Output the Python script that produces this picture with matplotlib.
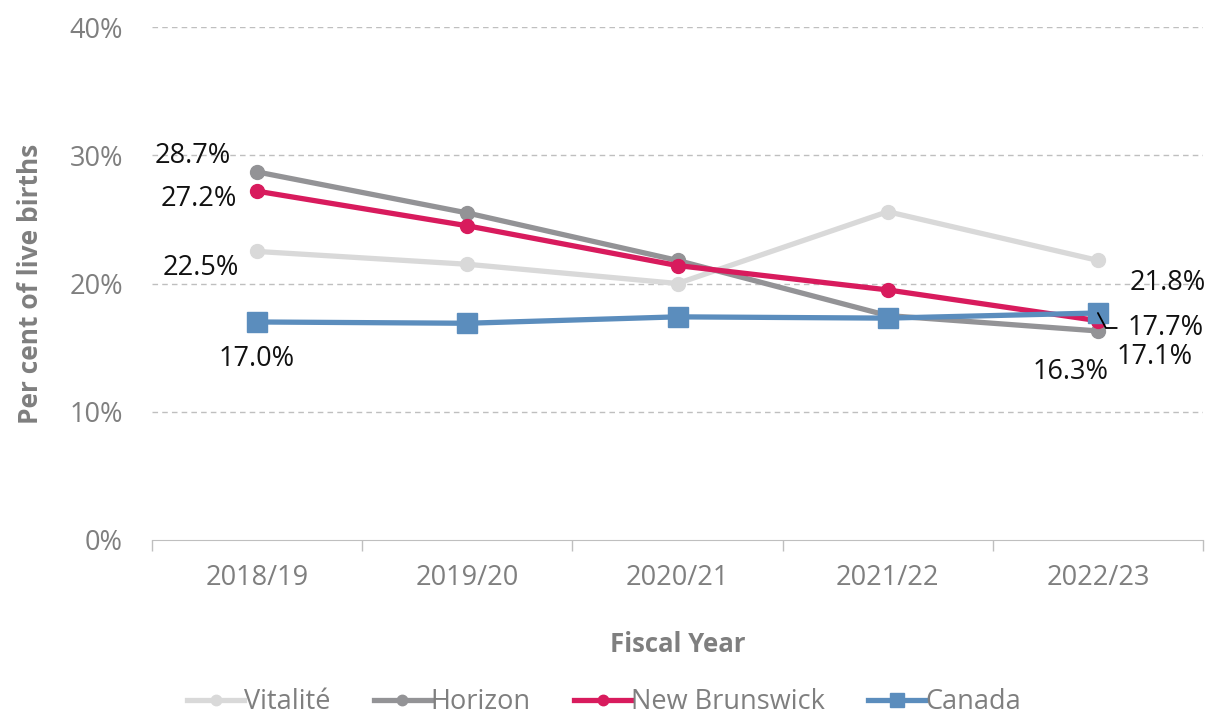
import matplotlib.pyplot as plt
import numpy as np

years = ["2018/19", "2019/20", "2020/21", "2021/22", "2022/23"]
vitalite = [22.5, 21.5, 20.0, 25.6, 21.8]
horizon = [28.7, 25.5, 21.8, 17.5, 16.3]
new_brunswick = [27.2, 24.5, 21.4, 19.5, 17.1]
canada = [17.0, 16.9, 17.4, 17.3, 17.7]

plt.rcParams['font.family'] = ['Open Sans', 'DejaVu Sans']

fig = plt.figure(figsize=(12.08, 7.19), dpi=100)
ax = fig.add_axes([152 / 1208, 1 - 540 / 719, (1203 - 152) / 1208, (540 - 27) / 719])

x = np.arange(len(years))
ax.plot(x, vitalite, '-o', color='#d9d9d9', lw=3.8, ms=10, label='Vitalité', zorder=3)
ax.plot(x, horizon, '-o', color='#939396', lw=3.8, ms=10, label='Horizon', zorder=4)
ax.plot(x, new_brunswick, '-o', color='#d81b5d', lw=3.8, ms=10, label='New Brunswick', zorder=5)
ax.plot(x, canada, '-s', color='#5b8dbd', lw=3.8, ms=14, label='Canada', zorder=6)

ax.set_xlim(-0.5, len(years) - 0.5)
ax.set_ylim(0, 40)
ax.set_yticks([0, 10, 20, 30, 40])
ax.set_yticklabels([f"{v}%" for v in [0, 10, 20, 30, 40]])
ax.set_xticks(x)
ax.set_xticklabels(years)
ax.set_xticks(np.arange(-0.5, len(years)), minor=True)
ax.tick_params(axis='x', which='major', length=0, pad=17, labelsize=19.5, labelcolor='#7f7f7f')
ax.tick_params(axis='x', which='minor', length=8, color='#bfbfbf', width=1)
ax.tick_params(axis='y', length=0, pad=21, labelsize=19.5, labelcolor='#7f7f7f')

for v in [10, 20, 30, 40]:
    ax.axhline(v, color='#bfbfbf', lw=1, ls=(0, (4, 3)), zorder=1)
for s in ['top', 'right', 'left']:
    ax.spines[s].set_visible(False)
ax.spines['bottom'].set_color('#bfbfbf')

ax.set_xlabel("Fiscal Year", fontsize=18.5, fontweight='bold', color='#7f7f7f', labelpad=28)
ax.set_ylabel("Per cent of live births", fontsize=19, fontweight='bold', color='#7f7f7f', labelpad=18)

# data labels (offsets in pixels)
lab = dict(fontsize=19.5, color='#111111', textcoords='offset pixels', zorder=10)
ax.annotate(f"{horizon[0]}%", (0, horizon[0]), xytext=(-26, 16), ha='right', va='center', **lab)
ax.annotate(f"{new_brunswick[0]}%", (0, new_brunswick[0]), xytext=(-20, -8), ha='right', va='center', **lab)
ax.annotate(f"{vitalite[0]}%", (0, vitalite[0]), xytext=(-18, -17), ha='right', va='center', **lab)
ax.annotate(f"{canada[0]}%", (0, canada[0]), xytext=(0, -37), ha='center', va='center', **lab)
ax.annotate(f"{vitalite[4]}%", (4, vitalite[4]), xytext=(32, -23), ha='left', va='center', **lab)
ax.annotate(f"{canada[4]}%", (4, canada[4]), xytext=(30, -15), ha='left', va='center',
            arrowprops=dict(arrowstyle='-', color='black', lw=1.3, shrinkA=6, shrinkB=0, relpos=(0, 0.5),
                            connectionstyle='angle,angleA=0,angleB=-62,rad=0'), **lab)
ax.annotate(f"{new_brunswick[4]}%", (4, new_brunswick[4]), xytext=(19, -36), ha='left', va='center', **lab)
ax.annotate(f"{horizon[4]}%", (4, horizon[4]), xytext=(-27, -41), ha='center', va='center', **lab)

leg = fig.legend(loc='center', bbox_to_anchor=(0.5, 1 - 702 / 719), ncol=4, frameon=False, fontsize=19.5,
                 handlelength=2.1, handletextpad=0.0, columnspacing=1.6, markerscale=0.75)
for t in leg.get_texts():
    t.set_color('#7f7f7f')

fig.savefig("out.png", dpi=100)
